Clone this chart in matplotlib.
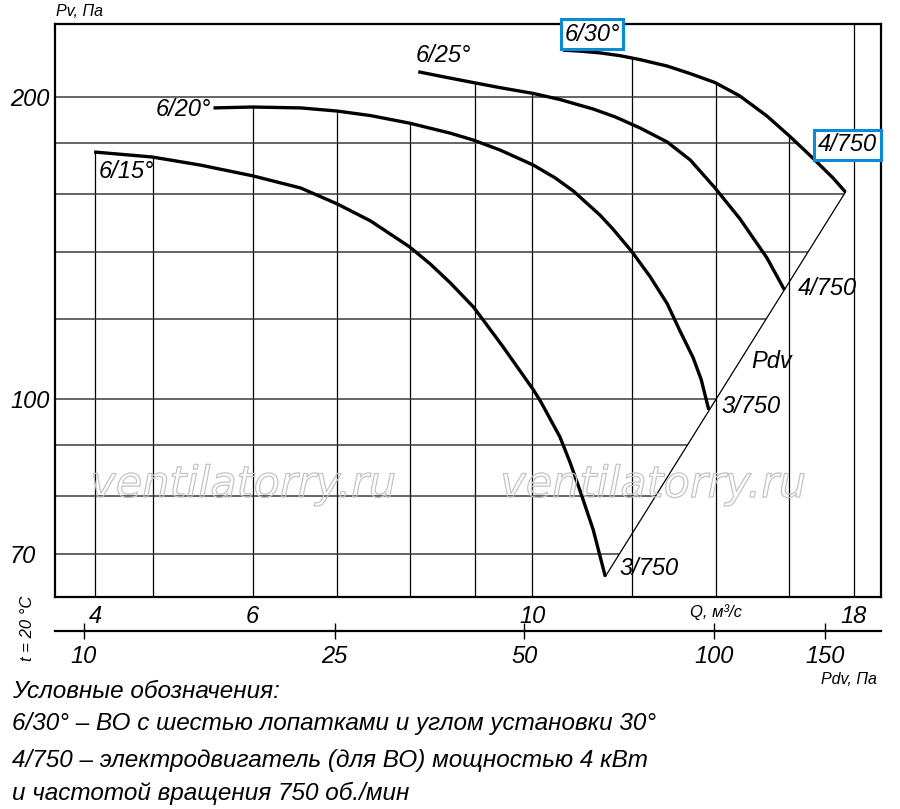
"""Fan characteristic chart (Pv vs Q) with dynamic pressure scale below."""
import numpy as np
import matplotlib
matplotlib.use("Agg")
import matplotlib.pyplot as plt
import matplotlib.patheffects as pe
from matplotlib import ticker

plt.rcParams["font.family"] = ["Liberation Sans", "DejaVu Sans"]
plt.rcParams["font.style"] = "italic"

# fan curves, Q in m3/s, Pv in Pa
Q_15 = [4.49, 4.99, 5.45, 6.00, 6.55, 7.00, 7.44, 7.99, 8.30, 8.61, 8.98,
        9.14, 9.48, 10.02, 10.15, 10.52, 10.72, 10.92, 11.18, 11.43]
P_15 = [176.3, 174.3, 171.1, 166.9, 162.3, 156.5, 150.5, 141.8, 136.3, 130.5,
        123.5, 119.9, 112.7, 102.1, 99.5, 91.6, 86.3, 80.8, 74.0, 66.45]
Q_20 = [5.585, 6.00, 6.55, 7.00, 7.44, 7.99, 8.61, 8.98, 9.43, 10.02, 10.43,
        10.78, 11.32, 11.59, 12.00, 12.41, 12.80, 13.10, 13.42, 13.62, 13.81]
P_20 = [195.1, 195.5, 195.1, 193.7, 191.7, 188.4, 184.1, 181.2, 177.1, 171.1,
        166.1, 161.2, 152.5, 147.7, 140.2, 132.3, 124.4, 116.9, 109.9, 104.5,
        97.5]
Q_25 = [8.12, 8.53, 8.98, 9.43, 10.02, 10.52, 11.18, 11.64, 12.18, 12.80,
        13.35, 13.97, 14.62, 15.36, 15.86]
P_25 = [212.0, 209.4, 206.8, 204.4, 201.7, 198.9, 194.6, 191.1, 186.3, 180.4,
        173.1, 162.3, 151.2, 138.2, 128.4]
Q_30 = [10.58, 10.92, 11.32, 11.74, 12.18, 12.80, 13.35, 13.97, 14.62, 15.36,
        16.02, 16.70, 17.33, 17.73]
P_30 = [222.8, 222.3, 221.4, 220.0, 218.0, 214.8, 211.1, 206.8, 200.5, 191.5,
        182.7, 173.9, 166.1, 160.8]

CURVE_NAMES = ["6/15°", "6/20°", "6/25°", "6/30°"]
MOTOR_NAMES = ["3/750", "3/750", "4/750", "4/750"]

# Pdv line joining the curve ends
Q_PDV = [11.43, 17.73]
P_PDV = [66.45, 160.8]

# dynamic pressure scale: Pdv = K * Q^2
K_PDV = 0.515

Q_GRID = [4.5, 5, 6, 7, 8, 9, 10, 12, 14, 16, 18]
P_GRID = [70, 80, 90, 100, 120, 140, 160, 180, 200]
Q_TICKS = [4.5, 6, 10, 18]
Q_TICK_LABELS = ["4", "6", "10", "18"]
P_TICKS = [70, 100, 200]
P_TICK_LABELS = ["70", "100", "200"]
PDV_TICKS = [10, 25, 50, 100, 150]
PDV_TICK_LABELS = ["10", "25", "50", "100", "150"]

LEGEND_LINES = [
    "Условные обозначения:",
    "6/30° – ВО с шестью лопатками и углом установки 30°",
    "4/750 – электродвигатель (для ВО) мощностью 4 кВт",
    "и частотой вращения 750 об./мин",
]

XLIM = (4.18, 18.92)
YLIM = (63.4, 236.6)
BLUE = "#0a8ad8"

fig = plt.figure(figsize=(9, 8.09), dpi=100)
ax = fig.add_axes([55 / 900, 212 / 809, 826 / 900, 573 / 809])
ax.set_xscale("log")
ax.set_yscale("log")
ax.set_xlim(*XLIM)
ax.set_ylim(*YLIM)

curves = [(Q_15, P_15), (Q_20, P_20), (Q_25, P_25), (Q_30, P_30)]


def top_envelope(q):
    vals = [np.interp(q, qc, pc) for qc, pc in curves if qc[0] <= q <= qc[-1]]
    return max(vals) if vals else YLIM[1]


def right_envelope(p):
    q_pdv = np.exp(np.interp(np.log(p), np.log(P_PDV), np.log(Q_PDV)))
    q_out = np.inf
    if P_30[-1] <= p <= P_30[0]:
        q_out = np.interp(p, P_30[::-1], Q_30[::-1])
    return min(q_pdv, q_out)


# grid clipped to the working area
for q in Q_GRID:
    ax.vlines(q, YLIM[0], top_envelope(q), color="black", lw=0.9, zorder=1)
for p in P_GRID:
    ax.hlines(p, XLIM[0], right_envelope(p), color="#3a3a3a", lw=1.1, zorder=1)

ax.plot(Q_PDV, P_PDV, color="black", lw=0.9, zorder=2)
for qc, pc in curves:
    ax.plot(qc, pc, color="black", lw=2.4, solid_capstyle="butt",
            solid_joinstyle="round", zorder=3)

fs = 17
# curve names at the start of each curve
ax.annotate(CURVE_NAMES[0], (Q_15[0], P_15[0]), xytext=(3, -14),
            textcoords="offset points", ha="left", va="center", fontsize=fs)
ax.annotate(CURVE_NAMES[1], (Q_20[0], P_20[0]), xytext=(-2, -1),
            textcoords="offset points", ha="right", va="center", fontsize=fs)
ax.annotate(CURVE_NAMES[2], (Q_25[0], P_25[0]), xytext=(-1.5, 12),
            textcoords="offset points", ha="left", va="center", fontsize=fs)
ax.annotate(CURVE_NAMES[3], (Q_30[0], P_30[0]), xytext=(21, 11.5),
            textcoords="offset points", ha="center", va="center", fontsize=fs,
            zorder=6, bbox=dict(boxstyle="square,pad=0.15", fc="white",
                                ec=BLUE, lw=2.2))
# motor labels at the end of each curve
ax.annotate(MOTOR_NAMES[0], (Q_15[-1], P_15[-1]), xytext=(10, 5.8),
            textcoords="offset points", ha="left", va="center", fontsize=fs)
ax.annotate(MOTOR_NAMES[1], (Q_20[-1], P_20[-1]), xytext=(9.4, 2.2),
            textcoords="offset points", ha="left", va="center", fontsize=fs)
ax.annotate(MOTOR_NAMES[2], (Q_25[-1], P_25[-1]), xytext=(9.4, 0.7),
            textcoords="offset points", ha="left", va="center", fontsize=fs)
ax.annotate(MOTOR_NAMES[3], (Q_30[-1], P_30[-1]), xytext=(1.4, 34),
            textcoords="offset points", ha="center", va="center", fontsize=fs,
            zorder=6, bbox=dict(boxstyle="square,pad=0.15", fc="white",
                                ec=BLUE, lw=2.2))
ax.text(15.5, 109, "Pdv", ha="center", va="center", fontsize=fs)

# axes styling
for sp in ax.spines.values():
    sp.set_linewidth(1.6)
ax.xaxis.set_minor_locator(ticker.NullLocator())
ax.yaxis.set_minor_locator(ticker.NullLocator())
ax.set_xticks(Q_TICKS, labels=Q_TICK_LABELS)
ax.set_yticks(P_TICKS, labels=P_TICK_LABELS)
ax.tick_params(axis="x", length=0, pad=5.5, labelsize=fs)
ax.tick_params(axis="y", length=0, pad=32.4, labelsize=fs)
for t in ax.get_yticklabels():
    t.set_ha("left")
ax.text(14, -0.013, "Q, м³/с", transform=ax.get_xaxis_transform(),
        ha="center", va="top", fontsize=12)

# dynamic pressure scale under the Q axis
sec = ax.secondary_xaxis(
    -0.0593,
    functions=(lambda q: K_PDV * np.asarray(q) ** 2,
               lambda p: np.sqrt(np.clip(p, 1e-9, None) / K_PDV)))
sec.set_ticks(PDV_TICKS, labels=PDV_TICK_LABELS)
sec.xaxis.set_minor_locator(ticker.NullLocator())
sec.tick_params(axis="x", direction="inout", length=12, width=1, pad=4,
                labelsize=fs)
sec.spines["bottom"].set_linewidth(1.6)

fig.text(56 / 900, 1 - 12 / 809, "Pv, Па", ha="left", va="center", fontsize=11.5)
fig.text(877 / 900, 1 - 680 / 809, "Pdv, Па", ha="right", va="center",
         fontsize=11.5)
fig.text(28 / 900, 1 - 628 / 809, "t = 20 °C", rotation=90, ha="center",
         va="center", fontsize=12)

for xc in (243, 653):
    fig.text(xc / 900, 1 - 485 / 809, "ventilatorry.ru", ha="center",
             va="center", fontsize=31, family="DejaVu Sans", color="none",
             path_effects=[pe.Stroke(linewidth=0.9, foreground="#c4c4c4")])

for line, base in zip(LEGEND_LINES, (698, 730, 767, 800)):
    fig.text(12 / 900, 1 - base / 809, line, ha="left", va="baseline",
             fontsize=17.5)

fig.savefig("out.png", dpi=100)
